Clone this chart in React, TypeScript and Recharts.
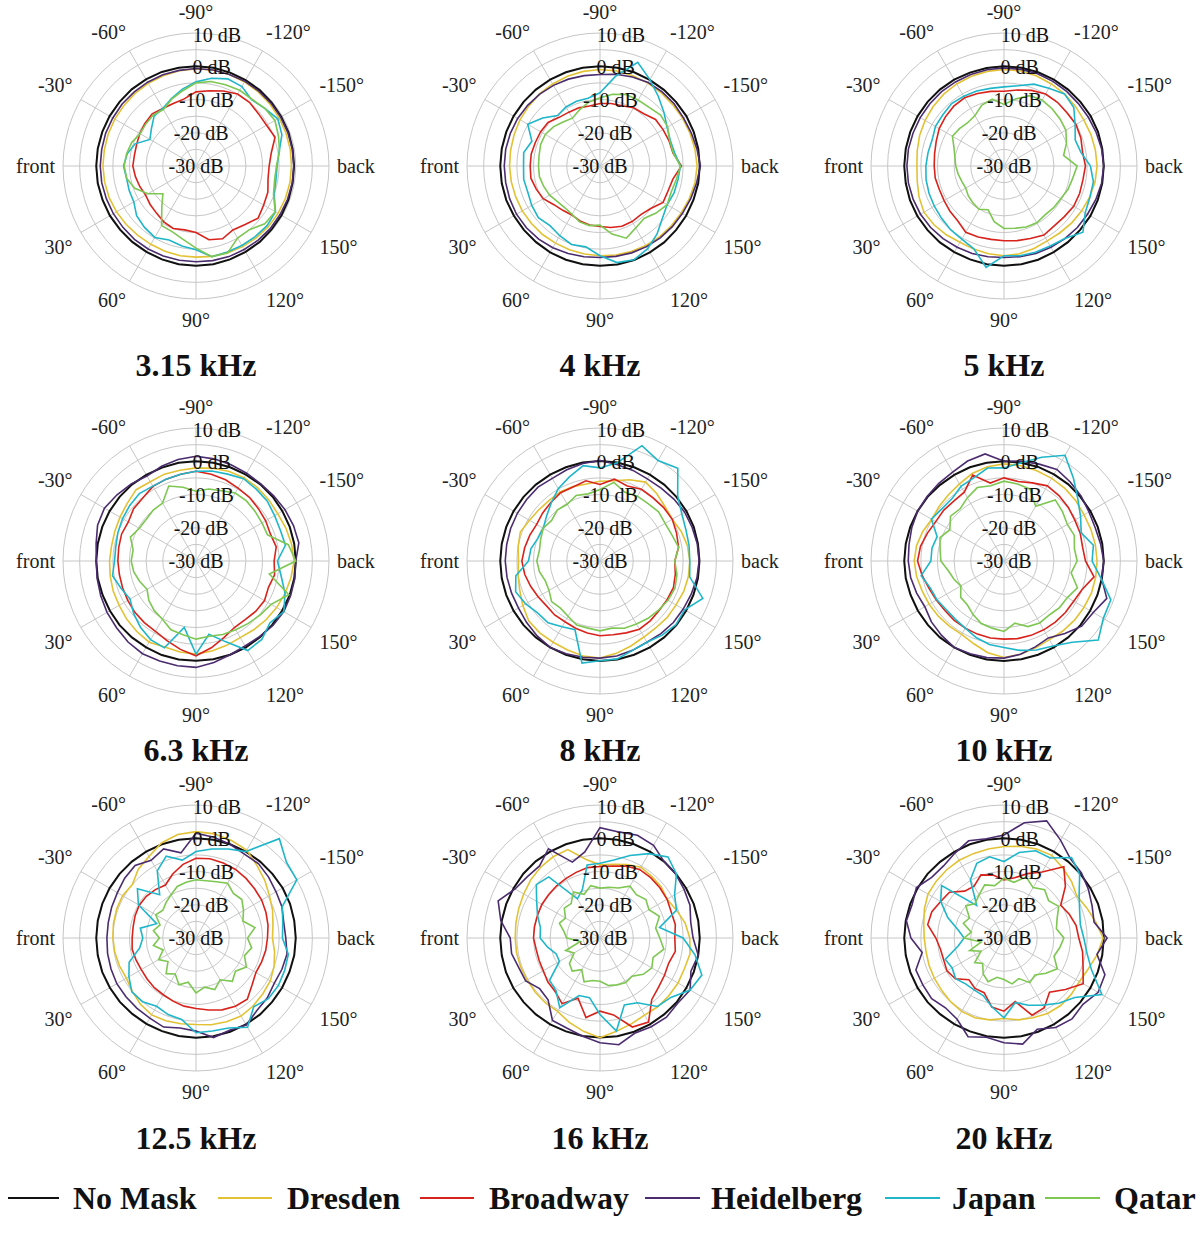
import React from 'react';
import { RadarChart, Radar, PolarGrid, PolarAngleAxis, PolarRadiusAxis } from 'recharts';

const FONT = '"Liberation Serif", "Times New Roman", serif';

// ---------- categories & labels ----------
const angles = [0, 10, 20, 30, 40, 50, 60, 70, 80, 90, 100, 110, 120, 130, 140, 150, 160, 170, 180, 190, 200, 210, 220, 230, 240, 250, 260, 270, 280, 290, 300, 310, 320, 330, 340, 350];
const angleTickValues = [0, 30, 60, 90, 120, 150, 180, 210, 240, 270, 300, 330];
const angleTickLabels = ['front', '30°', '60°', '90°', '120°', '150°', 'back', '-150°', '-120°', '-90°', '-60°', '-30°'];
const frequencyLabels = ['3.15 kHz', '4 kHz', '5 kHz', '6.3 kHz', '8 kHz', '10 kHz', '12.5 kHz', '16 kHz', '20 kHz'];
const seriesNames = ['No Mask', 'Dresden', 'Broadway', 'Heidelberg', 'Japan', 'Qatar'];
const seriesKeys = ['noMask', 'dresden', 'broadway', 'heidelberg', 'japan', 'qatar'];
const seriesColors = ['#111111', '#e2c234', '#d8231c', '#4b2c6f', '#1fb6ca', '#7dc752'];

// ---------- 3.15 kHz ----------
const nm315 = [0, 0, -0.1, -0.1, -0.2, -0.2, -0.2, -0.1, 0, 0, 0, -0.1,
  -0.2, -0.2, -0.3, -0.3, -0.4, -0.5, -0.5, -0.5, -0.4, -0.4, -0.3, -0.2,
  -0.2, -0.1, 0, 0, 0, 0.1, 0.1, 0.1, 0, 0, 0, 0];
const dr315 = [-2, -2.1, -2.2, -2.4, -2.6, -2.8, -2.8, -2.7, -2.6, -2.6, -2.4, -2.2,
  -2, -1.8, -1.6, -1.5, -1.4, -1.3, -1.3, -1.2, -1.2, -1.1, -1, -0.9,
  -0.8, -0.7, -0.7, -0.8, -0.9, -1.1, -1.3, -1.5, -1.7, -1.8, -1.9, -2];
const bw315 = [-11, -11.5, -12, -12.5, -12, -11.5, -10.6, -10, -10.5, -10, -7.5, -6.7,
  -7.8, -7, -5.6, -6.5, -7, -8, -8, -7, -4.7, -5.5, -5.5, -5,
  -5, -6, -7, -7.7, -9.5, -10, -10, -9.5, -10, -10.5, -11, -11.2];
const hd315 = [-1.2, -1.2, -1.3, -1.3, -1.3, -1.2, -1.2, -1.2, -1.2, -1.2, -1.1, -1,
  -1, -0.9, -0.8, -0.8, -0.7, -0.6, -0.6, -0.6, -0.6, -0.6, -0.6, -0.6,
  -0.6, -0.7, -0.7, -0.7, -0.8, -0.8, -0.9, -1, -1, -1.1, -1.1, -1.2];
const jp315 = [-8.2, -8.8, -8.6, -8.4, -6.7, -5.9, -5.2, -6.3, -5.6, -4.8, -2.3, -2.5,
  -2.4, -2.3, -2.1, -2.4, -5, -5.6, -5.6, -4.6, -2.5, -1.6, -3, -4,
  -2.4, -2.1, -3.2, -4.7, -6.5, -8.4, -10, -10.4, -12.5, -14, -10.5, -9];
const qt315 = [-8.4, -8.8, -10.4, -13.3, -17, -14, -9.3, -9, -7.6, -5.3, -2.3, -2.2,
  -5, -5, -3, -2.5, -5.2, -6, -5.8, -4.5, -3.6, -2.6, -3, -3.8,
  -3.7, -4, -4.2, -5, -7, -8.6, -10.4, -10, -10.3, -10.6, -9.4, -8.8];

// ---------- 4 kHz ----------
const nm400 = [0, 0, 0, -0.1, -0.1, -0.1, 0, 0, 0, 0, 0.1, 0.1,
  0, 0, -0.1, -0.1, -0.1, 0, 0, 0, 0, 0, -0.1, -0.1,
  -0.1, 0, 0, 0, 0, 0, 0, 0, 0, 0, 0, 0];
const dr400 = [-2.8, -2.9, -3, -3, -3.1, -3.1, -3.2, -3.2, -3.1, -3, -2.8, -2.6,
  -2.4, -2.2, -2, -1.8, -1.4, -1, -0.8, -1, -1.2, -1.3, -1.4, -1.3,
  -1.2, -1.1, -1, -1, -1.1, -1.3, -1.5, -1.7, -2, -2.2, -2.5, -2.7];
const bw400 = [-9, -8.9, -9.6, -10.3, -11.9, -12.6, -13, -12.4, -12, -11.8, -11.2, -10.7,
  -10.7, -10.9, -10.1, -8.1, -8.2, -7.7, -5.5, -7.7, -7.9, -8.1, -8.2, -9.5,
  -9.8, -10.7, -10.9, -11.2, -11.7, -11.4, -11.3, -10.9, -9.6, -9.4, -9.3, -9];
const hd400 = [-1.2, -1.2, -1.1, -1, -1.1, -1.3, -1.6, -2, -2.3, -2.5, -2.4, -2.2,
  -2, -1.8, -1.6, -1.4, -1, -0.5, 0.2, -0.4, -0.8, -1, -0.9, -0.9,
  -1, -1.5, -2, -2.5, -2.4, -2.2, -2, -1.8, -1.6, -1.4, -1.3, -1.2];
const jp400 = [-7, -6.7, -6.9, -6.3, -5.8, -6.6, -5.8, -4.9, -5.3, -3, -0.5, 0,
  -1.3, -3.3, -5.5, -6.7, -6.3, -6.2, -5.8, -7.2, -7.5, -6.7, -4.9, -2.7,
  0, 3.2, -2.5, -8, -9.3, -9.3, -9.5, -10.2, -7.5, -4.9, -8.2, -6.7];
const qt400 = [-11.5, -11.5, -12, -12.5, -13.3, -13.6, -13.2, -12.1, -11.8, -12.2, -9.2, -6.9,
  -8.5, -9.4, -8, -6.7, -7.2, -6.7, -5.8, -7.6, -7.7, -6.5, -6.2, -7,
  -7.1, -7.1, -8.1, -9.5, -10.5, -12, -13.4, -12.7, -11.7, -11, -11, -11.4];

// ---------- 5 kHz ----------
const nm500 = [0, 0, 0.1, 0.1, 0, 0, -0.1, -0.1, 0, 0, 0, 0,
  -0.1, -0.1, -0.1, 0, 0, 0, 0, 0, 0.1, 0.1, 0, 0,
  0, 0, 0, 0, -0.1, -0.1, 0, 0, 0, 0, 0, 0];
const dr500 = [-3.8, -3.5, -2.8, -2.2, -2.5, -3, -3.5, -3.4, -3.2, -3, -3.2, -3.6,
  -4, -3.8, -3.4, -3, -2.6, -2.2, -2, -2.1, -2.2, -2.3, -2, -1.7,
  -1.5, -1.2, -1, -1, -1.1, -1.3, -1.5, -1.8, -2.2, -2.6, -3, -3.5];
const bw500 = [-9, -9, -9.3, -9.2, -8.8, -8.4, -7, -7.3, -7.6, -7.5, -7.2, -6.8,
  -6, -6.5, -6.3, -5.8, -5.8, -5.9, -5.5, -6, -5.4, -5, -5.2, -5,
  -5, -5.8, -6.8, -7.5, -7.2, -6.8, -6.3, -6.5, -7, -7.5, -8.3, -8.8];
const hd500 = [-0.8, -0.8, -0.9, -1, -1.2, -1.5, -1.8, -2, -2.3, -2.5, -2.3, -2,
  -1.8, -1.5, -1.2, -1, -0.6, -0.2, 0, -0.2, -0.5, -0.7, -0.8, -0.7,
  -0.6, -0.5, -0.5, -0.5, -0.6, -0.7, -0.8, -0.8, -0.9, -0.9, -0.9, -0.8];
const jp500 = [-6.5, -6.2, -6, -5.8, -5.5, -5, -4.6, -3.5, 1, -3, -2.6, -2.4,
  -2.2, -1.5, 1, -1.8, -2.5, -2.7, -4, -6.5, -7.2, -5.3, -2.6, -1.7,
  -3, -3.8, -5.5, -6.2, -6.3, -6, -5.8, -5.5, -6, -6.2, -7, -6.8];
const qt500 = [-15.5, -16, -16.5, -16.7, -16, -15.5, -15, -16, -13, -11.2, -11, -10.5,
  -10.3, -10.8, -10.5, -10.3, -9.5, -9, -8, -11.8, -10, -8.5, -8, -7.5,
  -7.1, -7.5, -9.5, -11.5, -9.6, -10.5, -12.5, -13, -12.5, -12.1, -14, -15];

// ---------- 6.3 kHz ----------
const nm630 = [0, 0, -0.1, -0.1, 0, 0, 0, 0.1, 0.1, 0, 0, 0,
  0, -0.1, -0.1, -0.1, 0, 0, 0, 0, 0, 0, 0.1, 0.1,
  0, 0, 0, 0, 0, -0.1, -0.1, 0, 0, 0, 0, 0];
const dr630 = [-4, -3.8, -3.5, -3.3, -2.8, -2.3, -1.8, -2.5, -2.2, -2, -2.5, -3,
  -3.4, -3, -2.5, -2, -1.5, -1, -0.5, -0.8, -1.2, -1.6, -1.4, -1.2,
  -1.1, -1.3, -1.7, -2, -2.3, -2.2, -2.5, -2, -3, -3.6, -4, -4.2];
const bw630 = [-6.5, -6.6, -6.5, -6.3, -6, -5.8, -5.6, -4.5, -3, -1.5, -3.5, -5.5,
  -6.9, -7, -6.5, -6.2, -6.8, -6, -6.5, -5.5, -6.2, -5.8, -5.5, -5,
  -4.7, -4, -3.5, -3, -3.5, -3.8, -4.1, -5.2, -5.5, -6.5, -6.2, -6.4];
const hd630 = [0, 0.2, 0.5, 0.9, 1.2, 1.8, 2.2, 2, 2, 2, 1, 0,
  -0.5, -0.3, 0.2, 0.5, 0.3, 0.2, 0, 1.4, 1.2, 0.9, 0.5, 0.3,
  0.5, 0.8, 1.2, 1.5, 1, 0.3, -0.5, 0.3, 1, 1.8, 1.5, 0.5];
const jp630 = [-5.5, -4.5, -6, -7.1, -5.5, -4, -2.7, -2.2, -9.7, -2, -7.6, -4.2,
  1.1, 0.8, -1, 0.5, -1.5, -4, -5.5, -2.7, -3, -2.7, -2, -1.8,
  -1.4, -2.2, -2.5, -3, -3.5, -3.8, -4, -3.5, -4, -4.5, -5, -5.5];
const qt630 = [-10.5, -11, -12, -13, -11.5, -10.5, -9.8, -8, -7.5, -6.5, -7, -6.5,
  -6.1, -5.5, -4.8, -3.9, -0.3, -7.6, 0, -1.8, -7.1, -7.1, -6.8, -6.4,
  -6.4, -7.5, -8, -9, -7.5, -6, -9.9, -10, -10.5, -10.3, -9, -10.8];

// ---------- 8 kHz ----------
const nm800 = [0, 0, 0, 0, 0, 0, 0, 0, 0, 0.1, 0.1, 0,
  0, 0, 0, -0.1, -0.1, -0.1, -0.1, -0.1, 0, 0, 0, 0,
  0, 0, 0.1, 0.1, 0.1, 0, 0, 0, 0, 0, 0, 0];
const dr800 = [-5.5, -5, -4.3, -3.2, -2, -1.8, -1.8, -1.5, -1, -0.8, -1.8, -2.8,
  -3.6, -3.8, -3.6, -3.6, -3.2, -3, -3, -3.3, -4, -4.9, -4.5, -3.5,
  -2.6, -4, -5.5, -6, -6.5, -6.2, -6, -6.2, -6, -5.5, -4.5, -5];
const bw800 = [-6.5, -7, -7.8, -8.5, -9, -8.8, -8.9, -8.5, -8, -7.5, -7.5, -7,
  -6.3, -6.5, -6.8, -6.7, -6.5, -7, -7.5, -6, -5.5, -4.9, -5, -5.2,
  -5.1, -6, -5, -7, -5.5, -6.3, -6.3, -7, -7.5, -8, -7.5, -7];
const hd800 = [-1.5, -1.6, -1.7, -1.7, -1.2, -0.6, 0, -0.3, -0.6, -0.8, -1, -1.4,
  -1.8, -1.5, -1.2, -1.1, -0.8, -0.4, -0.2, -0.3, -0.5, -0.6, -1, -1.4,
  -1.5, -1, -0.5, 0.2, -0.2, -0.8, -1.3, -1, -1.2, -1.3, -1.4, -1.5];
const jp800 = [-8.5, -4.3, -3, -4.2, -5.6, -5.7, -7.2, -8, 1.2, 0, -0.1, -1.4,
  -1.8, -0.9, -0.2, -0.6, 2.9, -2.6, -3, -2.8, -2.5, -1.6, 0.5, 6.4,
  4.9, 6.9, 0, -2, -0.9, -3.1, -4.9, -7.2, -9, -10.3, -10.1, -8.9];
const qt800 = [-11, -11.5, -12.5, -12.3, -11, -11.5, -10.8, -9.5, -9.5, -9, -9.5, -8.5,
  -8.1, -7.5, -7, -6.4, -6, -6.5, -7.5, -6, -7, -7.4, -7, -7.5,
  -7.5, -8, -6, -8.5, -9.5, -9, -10.3, -10, -11, -10.3, -11, -11.5];

// ---------- 10 kHz ----------
const nm1000 = [0, 0, -0.1, -0.1, -0.1, 0, 0, 0, 0.1, 0.1, 0, 0,
  0, 0, 0, -0.1, -0.1, -0.1, 0, 0, 0, 0, 0, 0.1,
  0.1, 0.1, 0, 0, 0, 0, -0.1, -0.1, 0, 0, 0, 0];
const dr1000 = [-3, -3.3, -3.8, -4, -4.2, -4.4, -4.5, -3.5, -2, -1, -1.5, -2.2,
  -2.7, -2.5, -2.3, -2.2, -2, -2, -2, -2.1, -2.2, -2.2, -1.8, -1.5,
  -1.3, -1.1, -0.9, -0.8, -1.2, -2, -3.2, -4, -4.5, -4.9, -4, -3.3];
const bw1000 = [-4, -5, -6, -6.5, -6.8, -6.7, -6.7, -6.6, -6.5, -6.5, -6.3, -6.2,
  -6.1, -6, -5.9, -5.8, -5, -2.5, -5.5, -6, -5.6, -5.4, -4.8, -4.3,
  -3.9, -5, -5.7, -5, -6.2, -2.5, -6.1, -6.5, -6.3, -6.3, -5.5, -4.5];
const hd1000 = [-1.2, -1.5, -2, -2.5, -1.5, -0.8, 0, -0.3, -0.5, -0.8, -1.5, -2.5,
  -3.3, -1.5, 0.5, 1, 2.9, -0.2, 0, -0.5, -0.8, -0.5, 0.3, 1,
  1.8, 1, 0.5, 0, 2.7, 2, 0.9, 0.5, 0.2, 0, -0.5, -1];
const jp1000 = [-8, -4.7, -6.4, -6.7, -7.3, -7.2, -6.7, -5.5, -4.5, -4, -2.7, -1.5,
  -0.5, 1.9, 7, 4.5, 4.2, -0.4, -3.5, -2.7, -5.3, -3.4, -1, 2.5,
  6.7, 3.2, 0, -2, -1.6, -3.4, -4.1, -5.6, -5.6, -4.8, -8.6, -8];
const qt1000 = [-11, -13, -14, -15, -13, -12.8, -11.4, -10, -9.5, -8.8, -11, -9,
  -8.5, -8.8, -8.2, -8, -6.5, -9.5, -8, -8.5, -7.5, -8, -7, -6,
  -11, -7, -6.5, -6, -7, -6.5, -8, -9.5, -9, -11.2, -9.5, -10.5];

// ---------- 12.5 kHz ----------
const nm1250 = [0, 0, 0, -0.1, -0.1, -0.2, -0.2, -0.2, -0.1, 0, 0, 0,
  0, 0, -0.1, -0.1, -0.1, 0, 0, 0, 0.1, 0.1, 0, 0,
  0, 0, 0, 0, 0, 0, 0, 0, 0, 0, 0, 0];
const dr1250 = [-5, -5.2, -5.5, -5.8, -5, -4, -3.3, -3.5, -3.8, -4, -3.5, -3.2,
  -2.9, -3.3, -3.8, -4.2, -5, -6, -7, -6.5, -5.5, -4.5, -3, -1.5,
  0.5, 1.2, 1.8, 2, 1.6, 0.4, -1.7, -3, -5, -4.5, -4.6, -4.8];
const bw1250 = [-10.8, -10.5, -10.8, -11, -10.8, -10.5, -10.3, -9.8, -9.2, -8.8, -8, -7,
  -6.3, -6, -8, -9.2, -9, -8.7, -8.5, -8, -7.6, -7.2, -7, -6.6,
  -6.2, -6, -5.8, -6, -7.5, -9.5, -11.6, -11, -10.5, -10.3, -10.5, -10.8];
const hd1250 = [-3.2, -3, -2.8, -2.5, -2.5, -2.4, -2.2, -1.5, -2.5, -2, 0.4, -0.5,
  0.2, -1.5, -2, -2.8, -2.5, -2.2, -3, -3.2, -2.5, -2.2, -1.5, -0.8,
  -0.9, 0, 0.8, 1.5, -4, -1.5, -3, -1.5, -2, -2.7, -3, -3.2];
const jp1250 = [-14, -12.8, -8.6, -6.7, -4.8, -5, -6.3, -5.5, -5.1, -1.5, -1.6, -1.2,
  1, -3, -1.6, -1.4, -1.6, -1.8, -4, -3.5, -2.4, 5, 5.5, 9,
  0, -1.5, -2.8, -4, -6.2, -3.8, -6.7, -13, -7, -10, -17.4, -13];
const qt1250 = [-19, -17, -19.5, -17, -19, -16, -17.5, -15, -16.5, -13.5, -15, -13.5,
  -15.5, -13, -14.5, -12.5, -14.5, -13, -14.5, -12, -15, -13.5, -12, -12.5,
  -11, -12, -12.5, -12.5, -13, -13.5, -15, -16, -17, -16, -18.5, -17];

// ---------- 16 kHz ----------
const nm1600 = [0, 0, 0.1, 0.1, 0, 0, 0, -0.1, -0.1, -0.1, 0, 0,
  0, 0, 0.1, 0, 0, 0, 0, 0, 0, -0.1, -0.1, 0,
  0, 0, 0, 0, 0, 0, 0, 0.1, 0.1, 0, 0, 0];
const dr1600 = [-4.5, -4.5, -4.6, -4.7, -4.6, -4.5, -4.5, -3, -1.5, 0, -1.5, -2.5,
  -3.2, -3, -3, -2.9, -3, -2.5, -3, -4, -5.5, -6.7, -6, -5.8,
  -5.4, -6.5, -7.5, -8, -6, -1.7, -1.8, -2.2, -2.8, -3.5, -4, -4.3];
const bw1600 = [-10, -10.5, -10.5, -10.3, -9.5, -9, -7.2, -10.7, -5.7, -8, -6.5, -1.5,
  -0.8, -5.8, -7, -7.6, -8, -7, -7.5, -7, -7.2, -6.7, -6.5, -6.3,
  -6.2, -7, -8, -8.5, -8.5, -9, -9.4, -9.6, -9.8, -9.8, -10, -10];
const hd1600 = [-3, -3, -4, -4.2, -6.3, -5.7, -1.4, -1.1, 0, 1.5, 2.6, 0.5,
  0.8, 1.1, 0.5, 1.3, -0.9, 0, -2, -2.3, -1.2, -0.8, -0.2, 0,
  2.2, 2.9, 2.4, 3.2, -3.7, -5.7, 1, -1.7, -1.4, -0.5, 2.6, 0.3];
const jp1600 = [-12, -14, -16, -15.9, -10.2, -9.4, -5.8, -11.6, -11.8, -7, -1.6, -8.6,
  -7.5, -3.1, -2.2, 1.3, 2.6, -1, -5, -11.8, -5.5, -4.1, 0, 1.8,
  -0.7, -3.6, -6.2, -7.5, -7.7, -14.5, -16.4, -6, -5, -8, -10, -11.8];
const qt1600 = [-20, -24, -19, -21, -18, -17, -19, -16, -17, -17, -15.5, -15,
  -14.5, -15, -13, -12, -13, -10.5, -12, -13, -11, -13, -12, -13,
  -12, -14, -14.5, -15, -14, -16, -14, -16.5, -16, -18, -17, -19];

// ---------- 20 kHz ----------
const nm2000 = [0, 0, 0, 0, 0, -0.1, -0.1, -0.1, 0, 0, 0, 0,
  0, 0, 0, 0, 0, 0, 0, 0.1, 0.1, 0, 0, 0,
  0, 0, 0, 0, 0, 0, -0.1, -0.1, 0, 0, 0, 0];
const dr2000 = [-6, -6.2, -6, -5.8, -5.5, -5, -4.5, -4.5, -5, -5.8, -5, -4.5,
  -3.8, -3.5, -3.6, -3.8, -3, -1.5, -0.2, -2, -3.5, -4.7, -3.5, -2.5,
  -1.3, -1.5, -2, -2.5, -2.8, -3, -3, -3.2, -3.4, -3.6, -4.5, -5.5];
const bw2000 = [-9.5, -10.6, -10.7, -10.2, -10.9, -13.6, -12.5, -12.5, -8.9, -8, -10.6, -5.3,
  -5.8, -8.7, -5.9, -2.5, -4.7, -6, -7.5, -8, -9.1, -10.3, -5.9, -2,
  -7.1, -9.4, -11.6, -12.5, -10.8, -9.8, -12, -11.6, -8.6, -8, -6.9, -6.7];
const hd2000 = [-2, -5, -1.8, -1.8, -1.6, -2.6, -1.8, 1.6, 0.3, 1.5, 2.4, -0.8,
  1.1, 1.8, 1, 2.7, 2.3, -1.6, 1, -2.5, -1.8, -0.7, 0.4, 1.1,
  4, 7.5, 5.2, 1, 0.3, 1.1, -0.5, -1.7, -1.6, 0.4, -0.6, -0.2];
const jp2000 = [-18, -16, -11.2, -12, -11, -12, -12, -11.6, -9, -6, -10.3, -8.5,
  -6.7, -4.4, -2.2, 4, -2, -4.7, -6, -6.7, -5.8, -3.9, -0.3, 1.6,
  -2.2, -2.1, -3.9, -7, -5.2, -6.1, -9.8, -17.2, -5.5, -8, -12, -16];
const qt2000 = [-18, -23, -19, -22, -18.5, -20, -17.5, -16, -18, -17.5, -16, -17,
  -14.5, -15.5, -13.5, -11.5, -14, -13, -12, -14, -13, -11, -12.5, -11,
  -12.5, -10.5, -13, -12, -14, -13, -15, -16.5, -15, -18, -17, -20];

const chartSeries = [
  [nm315, dr315, bw315, hd315, jp315, qt315],
  [nm400, dr400, bw400, hd400, jp400, qt400],
  [nm500, dr500, bw500, hd500, jp500, qt500],
  [nm630, dr630, bw630, hd630, jp630, qt630],
  [nm800, dr800, bw800, hd800, jp800, qt800],
  [nm1000, dr1000, bw1000, hd1000, jp1000, qt1000],
  [nm1250, dr1250, bw1250, hd1250, jp1250, qt1250],
  [nm1600, dr1600, bw1600, hd1600, jp1600, qt1600],
  [nm2000, dr2000, bw2000, hd2000, jp2000, qt2000],
];

// ---------- layout ----------
const CELL_W = 400;
const CELL_H = 340;
const CX = 200;
const CY = 170;
const OUTER = 133;
const colCenters = [196, 600, 1004];
const rowCenters = [166, 561, 938];
const titleCenters = [365, 750, 1138];
const legendLayout = [
  { x1: 8, x2: 59, tx: 73 },
  { x1: 218, x2: 272, tx: 287 },
  { x1: 420, x2: 474, tx: 489 },
  { x1: 645, x2: 700, tx: 711 },
  { x1: 885, x2: 940, tx: 952 },
  { x1: 1045, x2: 1100, tx: 1114 },
];

const labelForAngle = (v: number) => {
  const idx = angleTickValues.indexOf(Number(v));
  return idx >= 0 ? angleTickLabels[idx] : '';
};

const AngleTick = (props: any) => {
  const { payload } = props;
  if (Number(payload.value) >= 360) return null;
  let a = Number(payload.coordinate);
  if (!Number.isFinite(a)) {
    a = (Math.atan2(CY - props.y, props.x - CX) * 180) / Math.PI;
  }
  const rad = (a * Math.PI) / 180;
  const c = Math.cos(rad);
  const s = Math.sin(rad);
  let x: number;
  let y: number;
  let anchor: 'start' | 'end' | 'middle';
  if (Math.abs(s) < 0.02) {
    x = CX + (OUTER + 8) * c;
    y = CY;
    anchor = c > 0 ? 'start' : 'end';
  } else if (Math.abs(c) < 0.02) {
    x = CX;
    y = CY - (OUTER + 13 + 8) * Math.sign(s);
    anchor = 'middle';
  } else {
    const r0 = OUTER + 13;
    x = CX + r0 * c - Math.sign(c) * 3;
    y = CY - r0 * s - Math.sign(s) * 8;
    anchor = c > 0 ? 'start' : 'end';
  }
  return (
    <text x={x} y={y} textAnchor={anchor} dominantBaseline="central" fontSize={20} fill="#222" fontFamily={FONT}>
      {labelForAngle(payload.value)}
    </text>
  );
};

const RadiusTick = (props: any) => {
  const { x, y, payload } = props;
  const v = Number(payload.value);
  if (Math.round(v) % 10 !== 0) return null;
  return (
    <text x={x} y={y} textAnchor="middle" dominantBaseline="central" fontSize={20} fill="#111" fontFamily={FONT}>
      {`${v} dB`}
    </text>
  );
};

const PolarPanel = ({ index }: { index: number }) => {
  const series = chartSeries[index];
  const rows = angles.map((a, i) => {
    const row: any = { angle: a };
    seriesKeys.forEach((k, j) => {
      row[k] = series[j][i];
    });
    return row;
  });
  const col = index % 3;
  const rowIdx = Math.floor(index / 3);
  const left = colCenters[col] - CX;
  const top = rowCenters[rowIdx] - CY;
  return (
    <>
      <div style={{ position: 'absolute', left, top, width: CELL_W, height: CELL_H }}>
        <RadarChart width={CELL_W} height={CELL_H} cx={CX} cy={CY} outerRadius={OUTER} startAngle={180} endAngle={540} data={rows} margin={{ top: 0, right: 0, bottom: 0, left: 0 }}>
          <PolarGrid gridType="circle" stroke="#c6c6c6" strokeWidth={1} />
          <PolarAngleAxis
            type="number"
            dataKey="angle"
            domain={[0, 360]}
            ticks={angleTickValues}
            tickCount={13}
            tick={(p: any) => <AngleTick {...p} />}
            tickLine={false}
            axisLine={false}
          />
          {seriesKeys.map((k, j) => (
            <Radar
              key={k}
              dataKey={k}
              name={seriesNames[j]}
              stroke={seriesColors[j]}
              strokeWidth={j === 0 ? 2 : 1.6}
              fill="none"
              fillOpacity={0}
              dot={false}
              isAnimationActive={false}
            />
          ))}
          <PolarRadiusAxis type="number" angle={81} domain={[-30, 10]} tickCount={9} tick={(p: any) => <RadiusTick {...p} />} axisLine={false} />
        </RadarChart>
      </div>
      <div
        style={{
          position: 'absolute',
          left: colCenters[col] - 150,
          top: titleCenters[rowIdx] - 20,
          width: 300,
          height: 40,
          lineHeight: '40px',
          textAlign: 'center',
          fontSize: 32,
          fontWeight: 700,
          fontFamily: FONT,
          color: '#111',
        }}
      >
        {frequencyLabels[index]}
      </div>
    </>
  );
};

export default function App() {
  return (
    <div style={{ position: 'absolute', left: 0, top: 0, width: 1200, height: 1236, overflow: 'hidden', background: '#fff', fontFamily: FONT }}>
      {frequencyLabels.map((_, i) => (
        <PolarPanel key={i} index={i} />
      ))}
      {seriesNames.map((name, j) => (
        <React.Fragment key={name}>
          <svg style={{ position: 'absolute', left: legendLayout[j].x1, top: 1188, overflow: 'visible' }} width={legendLayout[j].x2 - legendLayout[j].x1} height={20}>
            <line x1={0} x2={legendLayout[j].x2 - legendLayout[j].x1} y1={10} y2={10} stroke={seriesColors[j]} strokeWidth={2} />
          </svg>
          <div
            style={{
              position: 'absolute',
              left: legendLayout[j].tx,
              top: 1178,
              height: 40,
              lineHeight: '40px',
              fontSize: 32,
              fontWeight: 700,
              fontFamily: FONT,
              color: '#111',
              whiteSpace: 'nowrap',
            }}
          >
            {name}
          </div>
        </React.Fragment>
      ))}
    </div>
  );
}
